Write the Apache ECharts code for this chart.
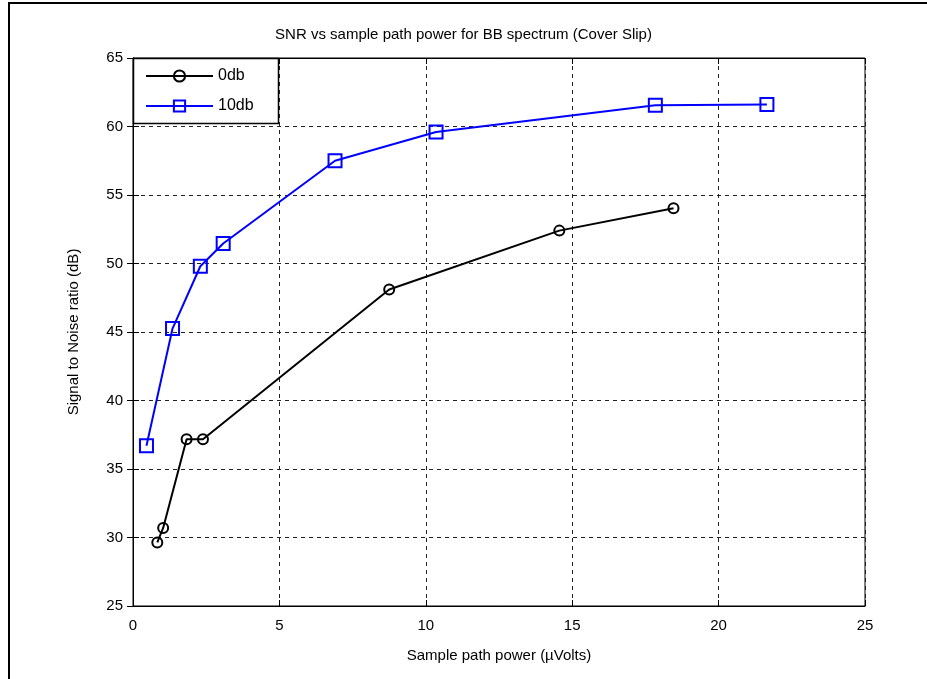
<!DOCTYPE html>
<html>
<head>
<meta charset="utf-8">
<script src="https://cdn.jsdelivr.net/npm/echarts@6/dist/echarts.min.js"></script>
<style>
  html, body { margin: 0; padding: 0; background: #fff; }
  #chart { width: 927px; height: 679px; }
</style>
</head>
<body>
<div id="chart"></div>
<script>
// Sample path power (µVolts) and SNR (dB) for each attenuation setting
const power0db = [0.83, 1.03, 1.83, 2.39, 8.75, 14.56, 18.46];
const snr0db   = [29.64, 30.7, 37.17, 37.17, 48.1, 52.4, 54.03];
const power10db = [0.46, 1.35, 2.30, 3.08, 6.90, 10.35, 17.84, 21.65];
const snr10db   = [36.7, 45.25, 49.8, 51.46, 57.5, 59.6, 61.55, 61.6];
const seriesNames = ['0db', '10db'];
const titleText = 'SNR vs sample path power for BB spectrum (Cover Slip)';
const xName = 'Sample path power (\u00b5Volts)';
const yName = 'Signal to Noise ratio (dB)';

const font = 'Liberation Sans, Arial, sans-serif';
const pairs = (xs, ys) => xs.map((x, i) => [x, ys[i]]);

const chart = echarts.init(document.getElementById('chart'), null, { renderer: 'canvas' });

const tickStyle = { inside: true, length: 6, lineStyle: { color: '#000', width: 1 } };
const gridLine = { show: true, lineStyle: { color: '#222', type: [4, 4], width: 1 } };

chart.setOption({
  backgroundColor: '#fff',
  animation: false,
  graphic: [{
    // outer figure frame
    type: 'rect',
    shape: { x: 9, y: 3, width: 930, height: 690 },
    style: { fill: 'none', stroke: '#000', lineWidth: 2 },
    silent: true
  }, {
    // legend box
    type: 'rect',
    shape: { x: 133.5, y: 58.5, width: 145, height: 65 },
    style: { fill: '#fff', stroke: '#000', lineWidth: 1.5 },
    silent: true,
    z: 5
  }],
  title: {
    text: titleText,
    left: 'center',
    top: 22,
    textStyle: { fontFamily: font, fontSize: 15, fontWeight: 'normal', color: '#000' }
  },
  grid: {
    left: 133, top: 58, right: 62, bottom: 73,
    show: true, borderColor: '#000', borderWidth: 1, backgroundColor: '#fff'
  },
  legend: {
    data: seriesNames,
    orient: 'vertical',
    left: 134, top: 60,
    itemWidth: 67, itemHeight: 14, itemGap: 14,
    padding: [8, 8, 8, 11],
    z: 10,
    textStyle: { fontFamily: font, fontSize: 16, color: '#000' }
  },
  xAxis: [{
    type: 'value', min: 0, max: 25, interval: 5,
    name: xName, nameLocation: 'middle', nameGap: 42,
    nameTextStyle: { fontFamily: font, fontSize: 15, color: '#000' },
    axisLine: { show: true, onZero: false, lineStyle: { color: '#000' } },
    axisTick: tickStyle,
    axisLabel: { fontFamily: font, fontSize: 15, color: '#000', margin: 12 },
    splitLine: gridLine
  }, {
    type: 'value', min: 0, max: 25, interval: 5, position: 'top',
    axisLine: { show: true, lineStyle: { color: '#000' } },
    axisTick: tickStyle, axisLabel: { show: false }, splitLine: { show: false }
  }],
  yAxis: [{
    type: 'value', min: 25, max: 65, interval: 5,
    name: yName, nameLocation: 'middle', nameGap: 52,
    nameTextStyle: { fontFamily: font, fontSize: 15, color: '#000' },
    axisLine: { show: true, onZero: false, lineStyle: { color: '#000' } },
    axisTick: tickStyle,
    axisLabel: { fontFamily: font, fontSize: 15, color: '#000', margin: 10 },
    splitLine: gridLine
  }, {
    type: 'value', min: 25, max: 65, interval: 5, position: 'right',
    axisLine: { show: true, lineStyle: { color: '#000' } },
    axisTick: tickStyle, axisLabel: { show: false }, splitLine: { show: false }
  }],
  series: [{
    name: seriesNames[0],
    type: 'line',
    data: pairs(power0db, snr0db),
    symbol: 'circle', symbolSize: 10,
    showAllSymbol: true,
    lineStyle: { color: '#000', width: 2 },
    itemStyle: { color: 'rgba(255,255,255,0)', borderColor: '#000', borderWidth: 2 },
    z: 3
  }, {
    name: seriesNames[1],
    type: 'line',
    data: pairs(power10db, snr10db),
    symbol: 'rect', symbolSize: 13,
    showAllSymbol: true,
    lineStyle: { color: '#0000ff', width: 2 },
    itemStyle: { color: 'rgba(255,255,255,0)', borderColor: '#0000ff', borderWidth: 2 },
    z: 3
  }]
});
</script>
</body>
</html>
